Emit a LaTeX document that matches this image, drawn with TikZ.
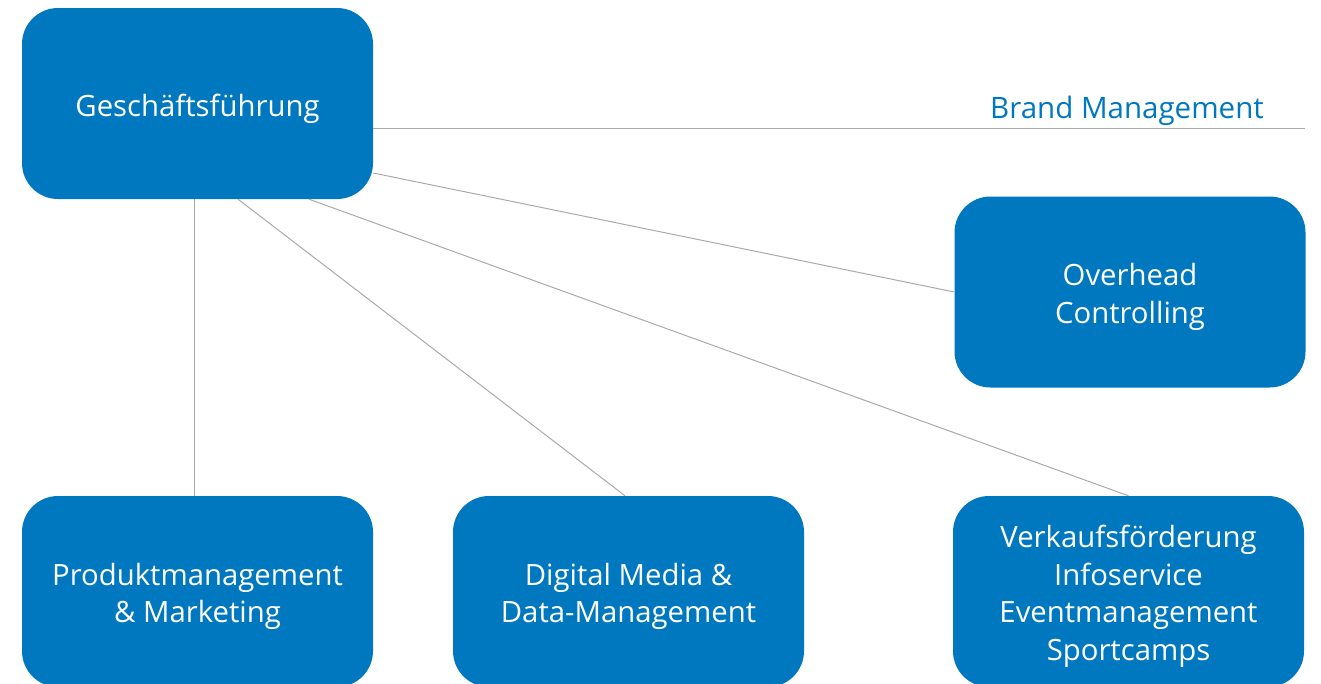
\documentclass[tikz,border=0pt]{standalone}
\usepackage{fontspec}
\setmainfont{Open Sans}
\usetikzlibrary{calc}
\definecolor{boxblue}{RGB}{0,120,192}
\definecolor{linegray}{RGB}{170,170,170}
\begin{document}
\begin{tikzpicture}[x=1pt,y=-1pt,
  unit/.style={fill=boxblue, draw=none, rounded corners=36pt,
    minimum width=351pt, minimum height=191pt, inner sep=0pt},
  unittext/.style={text=white, align=center, inner sep=0pt,
    font=\fontsize{29.3}{37.5}\selectfont},
  link/.style={draw=linegray, line width=1pt}]
\useasboundingbox (0,0) rectangle (1321,683);

% unit boxes
\node[unit] (gf) at (197.5,103.5) {};
\node[unit] (oc) at (1130,292) {};
\node[unit] (pm) at (197.5,591.5) {};
\node[unit] (dm) at (628.5,591.5) {};
\node[unit] (vf) at (1128.5,591.5) {};

% unit captions, set a little below the box centre
\node[unittext] (gf-t) at ([yshift=-5pt]gf.center) {Geschäftsführung};
\node[unittext] (oc-t) at ([yshift=-5pt]oc.center) {Overhead\\Controlling};
\node[unittext] (pm-t) at ([yshift=-5pt]pm.center) {Produktmanagement\\\& Marketing};
\node[unittext] (dm-t) at ([yshift=-5pt]dm.center) {Digital Media \&\\Data-Management};
\node[unittext] (vf-t) at ([yshift=-5pt]vf.center) {Verkaufsförderung\\Infoservice\\Eventmanagement\\Sportcamps};

% brand management line
\coordinate (bmend) at (1305,128);
\node[anchor=base east, text=boxblue, inner sep=0pt,
  font=\fontsize{29.5}{34}\selectfont] (bm) at (1264,118.5) {Brand Management};

% connectors
\draw[link] (gf.east |- bmend) -- (bmend);
\draw[link] ([yshift=-69.5pt]gf.east) -- (oc.west);
\draw[link] ([xshift=-3.5pt]gf.south) -- ([xshift=-3.5pt]pm.north);
\draw[link] ([xshift=40.5pt]gf.south) -- ([xshift=-3.5pt]dm.north);
\draw[link] ([xshift=111.5pt]gf.south) -- (vf.north);
\end{tikzpicture}
\end{document}
